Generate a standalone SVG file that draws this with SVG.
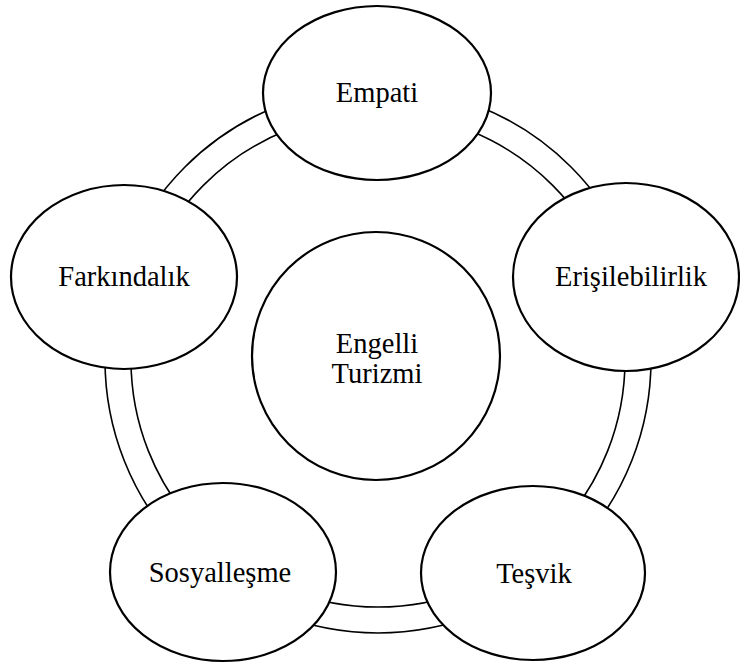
<svg xmlns="http://www.w3.org/2000/svg" width="740" height="666" viewBox="0 0 740 666">
<style>
.node{fill:#fff;stroke:#000;stroke-width:2.2}
.ring{fill:none;stroke:#000;stroke-width:1.6}
.lbl{font-family:"Liberation Serif","Times New Roman",serif;font-size:28.5px;fill:#000;text-anchor:middle}
</style>
<rect width="740" height="666" fill="#fff"/>
<g id="connectors">
<circle class="ring" cx="378" cy="360" r="273"/>
<circle class="ring" cx="378" cy="360" r="247"/>
</g>
<g id="center">
<circle class="node" cx="376" cy="356" r="124"/>
<text class="lbl" x="377" y="353">Engelli</text>
<text class="lbl" x="377" y="383">Turizmi</text>
</g>
<g id="empati">
<ellipse class="node" cx="377" cy="93" rx="114" ry="87"/>
<text class="lbl" x="377" y="102">Empati</text>
</g>
<g id="erisilebilirlik">
<ellipse class="node" cx="626" cy="277" rx="113" ry="94"/>
<text class="lbl" x="631" y="286">Erişilebilirlik</text>
</g>
<g id="farkindalik">
<ellipse class="node" cx="124" cy="277" rx="113" ry="92"/>
<text class="lbl" x="124" y="286">Farkındalık</text>
</g>
<g id="sosyallesme">
<ellipse class="node" cx="223" cy="572" rx="113" ry="89"/>
<text class="lbl" x="220" y="582">Sosyalleşme</text>
</g>
<g id="tesvik">
<ellipse class="node" cx="533" cy="573" rx="112" ry="87"/>
<text class="lbl" x="534" y="583">Teşvik</text>
</g>
</svg>
